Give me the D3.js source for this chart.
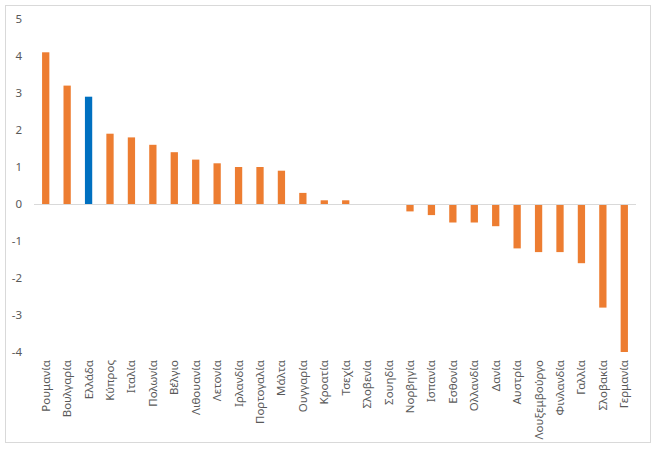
<!DOCTYPE html>
<html>
<head>
<meta charset="utf-8">
<script src="https://cdn.jsdelivr.net/npm/d3@7"></script>
<style>
  body { margin: 0; background: #fff; }
  svg { display: block; font-family: "Noto Sans", "Open Sans", sans-serif; }
</style>
</head>
<body>
<svg width="658" height="449"></svg>
<script>
// χώρες και τιμές
const countries = ["Ρουμανία", "Βουλγαρία", "Ελλάδα", "Κύπρος", "Ιταλία", "Πολωνία", "Βέλγιο",
  "Λιθουανία", "Λετονία", "Ιρλανδία", "Πορτογαλία", "Μάλτα", "Ουγγαρία", "Κροατία", "Τσεχία",
  "Σλοβενία", "Σουηδία", "Νορβηγία", "Ισπανία", "Εσθονία", "Ολλανδία", "Δανία", "Αυστρία",
  "Λουξεμβούργο", "Φινλανδία", "Γαλλία", "Σλοβακία", "Γερμανία"];
const values = [4.1, 3.2, 2.9, 1.9, 1.8, 1.6, 1.4, 1.2, 1.1, 1.0, 1.0, 0.9, 0.3, 0.1, 0.1,
  0, 0, -0.2, -0.3, -0.5, -0.5, -0.6, -1.2, -1.3, -1.3, -1.6, -2.8, -4.0];
const yTicks = [5, 4, 3, 2, 1, 0, -1, -2, -3, -4];
const highlight = "Ελλάδα";

const data = countries.map((c, i) => ({ name: c, value: values[i] }));

const svg = d3.select("svg");

// πλαίσιο
svg.append("rect")
  .attr("x", 5.5).attr("y", 5.5)
  .attr("width", 645).attr("height", 437)
  .attr("fill", "#fff")
  .attr("stroke", "#D9D9D9");

const x = d3.scaleBand()
  .domain(countries)
  .range([35, 635])
  .paddingInner(0.66)
  .paddingOuter(0.33);

const y = d3.scaleLinear()
  .domain([-4, 5])
  .range([352, 19]);

// ετικέτες άξονα y
svg.append("g")
  .selectAll("text")
  .data(yTicks)
  .enter()
  .append("text")
  .attr("x", 22)
  .attr("y", (d) => y(d))
  .attr("dy", "0.35em")
  .attr("text-anchor", "end")
  .attr("font-size", 11.5)
  .attr("fill", "#595959")
  .text((d) => d);

// μπάρες
svg.append("g")
  .selectAll("rect")
  .data(data)
  .enter()
  .append("rect")
  .attr("x", (d) => x(d.name))
  .attr("width", x.bandwidth())
  .attr("y", (d) => y(Math.max(0, d.value)))
  .attr("height", (d) => Math.abs(y(d.value) - y(0)))
  .attr("fill", (d) => (d.name === highlight ? "#0070C0" : "#ED7D31"));

// γραμμή μηδέν
svg.append("line")
  .attr("x1", 34).attr("x2", 636)
  .attr("y1", Math.round(y(0)) + 0.5).attr("y2", Math.round(y(0)) + 0.5)
  .attr("stroke", "#D9D9D9");

// ετικέτες κατηγοριών
svg.append("g")
  .selectAll("text")
  .data(countries)
  .enter()
  .append("text")
  .attr("transform", (d) => `translate(${x(d) + x.bandwidth() / 2},360) rotate(-90)`)
  .attr("dy", "0.35em")
  .attr("text-anchor", "end")
  .attr("font-size", 11.5)
  .attr("fill", "#595959")
  .text((d) => d);
</script>
</body>
</html>
